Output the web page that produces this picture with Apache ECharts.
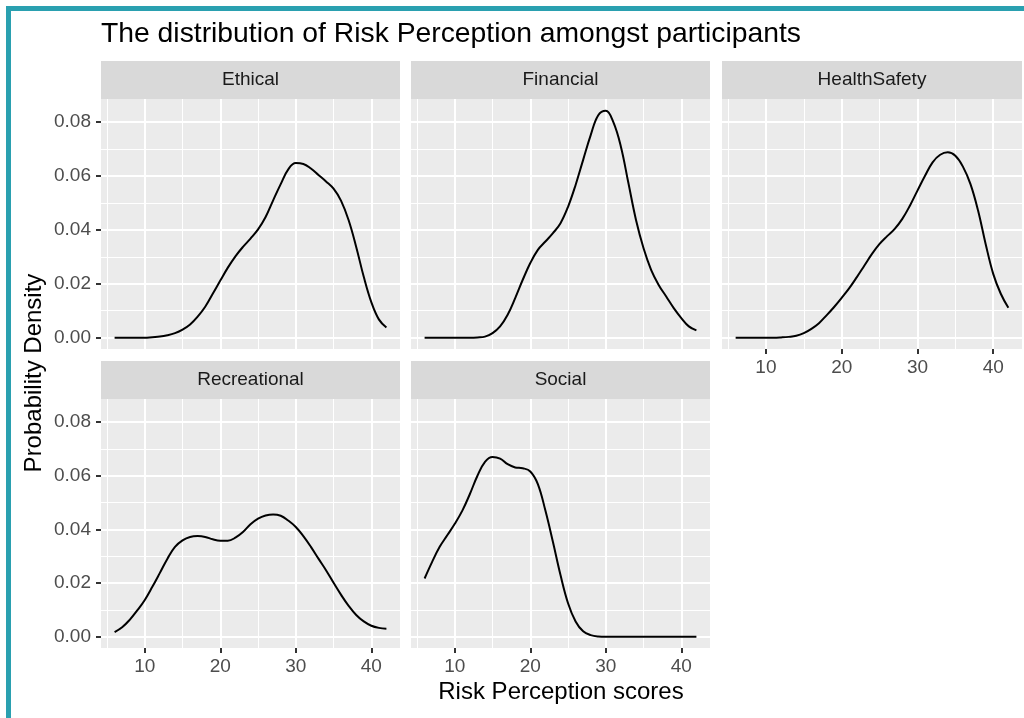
<!DOCTYPE html>
<html>
<head>
    <meta charset="utf-8">
    <script src="https://cdn.jsdelivr.net/npm/echarts@6/dist/echarts.min.js"></script>
</head>
<body style="margin:0;background:#fff;">
    <div id="main" style="width:1024px;height:718px;"></div>
    <script type="text/javascript">
        // scores 6..42, density at each integer score
        var scores = [6, 7, 8, 9, 10, 11, 12, 13, 14, 15, 16, 17, 18, 19, 20, 21, 22, 23, 24,
            25, 26, 27, 28, 29, 30, 31, 32, 33, 34, 35, 36, 37, 38, 39, 40, 41, 42];

        var ethical = [0, 0, 0, 0, 0, 0.0002, 0.0004, 0.0009, 0.0017, 0.003, 0.0049, 0.0078, 0.0115,
            0.0163, 0.0212, 0.026, 0.0302, 0.0337, 0.0368, 0.0402, 0.0448, 0.051, 0.057, 0.0625,
            0.0648, 0.0645, 0.0628, 0.0604, 0.058, 0.0553, 0.0508, 0.0436, 0.0337, 0.0226, 0.0132,
            0.0068, 0.0038];
        var financial = [0, 0, 0, 0, 0, 0, 0, 0.0001, 0.0004, 0.0017, 0.0042, 0.0085, 0.0147, 0.0215,
            0.0277, 0.0326, 0.0357, 0.0388, 0.0425, 0.0486, 0.0567, 0.066, 0.0752, 0.0826, 0.0842,
            0.080, 0.0709, 0.0573, 0.0437, 0.0332, 0.0252, 0.0196, 0.0153, 0.011, 0.0073, 0.0042,
            0.0027];
        var healthSafety = [0, 0, 0, 0, 0, 0, 0.0001, 0.0003, 0.0007, 0.0017, 0.0033, 0.0054, 0.0083,
            0.0114, 0.0148, 0.0184, 0.0225, 0.0268, 0.0311, 0.0348, 0.0377, 0.0404, 0.0441, 0.049,
            0.0546, 0.0601, 0.0651, 0.0679, 0.0688, 0.0675, 0.0635, 0.057, 0.0472, 0.0348, 0.0237,
            0.0163, 0.0111];
        var recreational = [0.0017, 0.0035, 0.0063, 0.0098, 0.0137, 0.0186, 0.0238, 0.0291, 0.0335,
            0.0359, 0.0372, 0.0375, 0.0372, 0.0363, 0.0358, 0.0358, 0.0369, 0.039, 0.0419, 0.044,
            0.0452, 0.0456, 0.0451, 0.0433, 0.0409, 0.0375, 0.0335, 0.0291, 0.0248, 0.0201, 0.0156,
            0.0115, 0.0081, 0.0057, 0.0041, 0.0033, 0.003];
        var social = [0.0217, 0.0279, 0.0335, 0.0378, 0.0421, 0.047, 0.0532, 0.06, 0.0652, 0.067,
            0.0664, 0.0643, 0.0631, 0.0628, 0.0616, 0.0569, 0.047, 0.0353, 0.023, 0.0125, 0.0057,
            0.002, 0.0006, 0.0001, 0, 0, 0, 0, 0, 0, 0, 0, 0, 0, 0, 0, 0];

        var facetNames = ['Ethical', 'Financial', 'HealthSafety', 'Recreational', 'Social'];
        var facetData = [ethical, financial, healthSafety, recreational, social];
        var xTicks = [10, 20, 30, 40];
        var yTicks = [0, 0.02, 0.04, 0.06, 0.08];

        var font = '"Liberation Sans", Arial, sans-serif';

        // panel boxes: left, top, width, height
        var panels = [
            { left: 101, top: 99, width: 299, height: 250, showX: false, showY: true },
            { left: 411, top: 99, width: 299, height: 250, showX: false, showY: false },
            { left: 722, top: 99, width: 300, height: 250, showX: true, showY: false },
            { left: 101, top: 399, width: 299, height: 249, showX: true, showY: true },
            { left: 411, top: 399, width: 299, height: 249, showX: true, showY: false }
        ];

        var grids = [], xAxes = [], yAxes = [], series = [], graphics = [];

        panels.forEach(function (p, i) {
            grids.push({
                left: p.left, top: p.top, width: p.width, height: p.height,
                show: true, backgroundColor: '#ebebeb', borderWidth: 0
            });
            xAxes.push({
                gridIndex: i, type: 'value', min: 4.2, max: 43.8,
                axisLine: { show: false, onZero: false },
                axisTick: { show: p.showX, customValues: xTicks, length: 5, lineStyle: { color: '#333', width: 2 } },
                axisLabel: { show: p.showX, customValues: xTicks, color: '#4d4d4d', fontSize: 19, fontFamily: font, margin: 9 },
                splitLine: { show: true, lineStyle: { color: '#fff', width: 2 } },
                minorTick: { show: false, splitNumber: 2 },
                minorSplitLine: { show: true, lineStyle: { color: '#fff', width: 1 } }
            });
            yAxes.push({
                gridIndex: i, type: 'value', min: -0.0042, max: 0.0886,
                axisLine: { show: false, onZero: false },
                axisTick: { show: p.showY, customValues: yTicks, length: 5, lineStyle: { color: '#333', width: 2 } },
                axisLabel: {
                    show: p.showY, customValues: yTicks, color: '#4d4d4d', fontSize: 19, fontFamily: font, margin: 10,
                    formatter: function (v) { return v.toFixed(2); }
                },
                splitLine: { show: true, lineStyle: { color: '#fff', width: 2 } },
                minorTick: { show: false, splitNumber: 2 },
                minorSplitLine: { show: true, lineStyle: { color: '#fff', width: 1 } }
            });
            series.push({
                name: facetNames[i], type: 'line', xAxisIndex: i, yAxisIndex: i,
                data: scores.map(function (s, k) { return [s, facetData[i][k]]; }),
                smooth: 0.4, showSymbol: false, symbol: 'none',
                lineStyle: { color: '#000', width: 2 }, silent: true
            });
            // facet strip
            graphics.push({
                type: 'rect', shape: { x: p.left, y: p.top - 38, width: p.width, height: 38 },
                style: { fill: '#d9d9d9' }, silent: true
            });
            graphics.push({
                type: 'text', x: p.left + p.width / 2, y: p.top - 19,
                style: { text: facetNames[i], fill: '#1a1a1a', font: '19px ' + font, align: 'center', verticalAlign: 'middle' }
            });
        });

        // axis titles
        graphics.push({
            type: 'text', x: 561, y: 692,
            style: { text: 'Risk Perception scores', fill: '#000', font: '24px ' + font, align: 'center', verticalAlign: 'middle' }
        });
        graphics.push({
            type: 'text', x: 34, y: 373, rotation: Math.PI / 2,
            style: { text: 'Probability Density', fill: '#000', font: '24px ' + font, align: 'center', verticalAlign: 'middle' }
        });
        // teal frame on the left and top
        graphics.push({ type: 'rect', shape: { x: 6, y: 6, width: 5, height: 712 }, style: { fill: '#2aa0b0' }, silent: true });
        graphics.push({ type: 'rect', shape: { x: 6, y: 6, width: 1018, height: 5 }, style: { fill: '#2aa0b0' }, silent: true });

        var myChart = echarts.init(document.getElementById('main'));
        var option = {
            animation: false,
            backgroundColor: '#fff',
            title: {
                text: 'The distribution of Risk Perception amongst participants',
                left: 101, top: 20, padding: 0,
                textStyle: { fontSize: 28.3, fontWeight: 'normal', color: '#000', fontFamily: font }
            },
            grid: grids,
            xAxis: xAxes,
            yAxis: yAxes,
            series: series,
            graphic: graphics
        };
        myChart.setOption(option);
    </script>
</body>
</html>
